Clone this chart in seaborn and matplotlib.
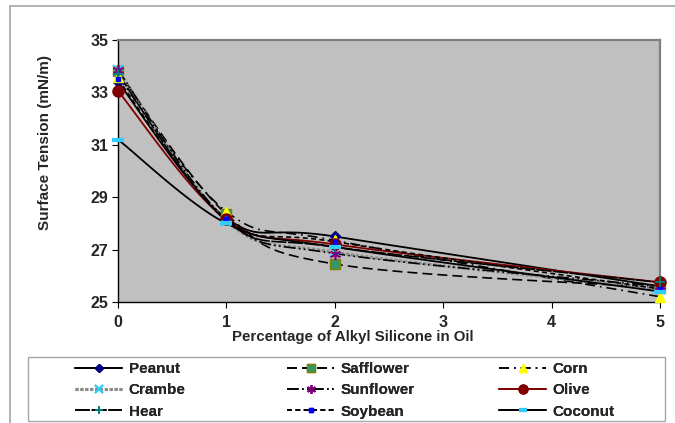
import numpy as np
import pandas as pd
import matplotlib
matplotlib.use("Agg")
import matplotlib.pyplot as plt
from matplotlib.lines import Line2D
from matplotlib.patches import Rectangle
import seaborn as sns

# ---- data -------------------------------------------------------------
x_vals = [0, 1, 2, 5]
oils = ["Peanut", "Safflower", "Corn", "Crambe", "Sunflower",
        "Olive", "Hear", "Soybean", "Coconut"]
peanut = [33.4, 28.2, 27.5, 25.6]
safflower = [33.8, 28.35, 26.45, 25.55]
corn = [33.6, 28.45, 27.35, 25.2]
crambe = [33.85, 28.1, 26.9, 25.5]
sunflower = [33.85, 28.15, 26.85, 25.6]
olive = [33.05, 28.15, 27.2, 25.75]
hear = [33.7, 28.1, 27.1, 25.75]
soybean = [33.5, 28.15, 27.3, 25.5]
coconut = [31.2, 28.0, 27.1, 25.4]
series = [peanut, safflower, corn, crambe, sunflower, olive, hear, soybean, coconut]
x_ticks = [0, 1, 2, 3, 4, 5]
y_ticks = [25, 27, 29, 31, 33, 35]

# ---- styles -----------------------------------------------------------
styles = {
    "Peanut":    dict(color="black", ls="-", lw=1.3, marker="D", ms=5.5, mfc="#000080", mec="#000080", mew=1),
    "Safflower": dict(color="black", ls=(0, (6, 3)), lw=1.2, marker="s", ms=7, mfc="#339966", mec="#808000", mew=1),
    "Corn":      dict(color="black", ls=(0, (6, 3, 1, 3)), lw=1.2, marker="^", ms=7.5, mfc="#FFFF00", mec="#FFFF00", mew=1),
    "Crambe":    dict(color="#8c8c8c", ls=(0, (1, 0.6)), lw=2.2, marker="x", ms=6.5, mfc="#33CCFF", mec="#33CCFF", mew=1.5),
    "Sunflower": dict(color="black", ls=(0, (7, 2, 1, 2, 1, 2)), lw=1.2, marker=(6, 2, 0), ms=8, mfc="#800080", mec="#800080", mew=1.2),
    "Olive":     dict(color="#800000", ls="-", lw=1.3, marker="o", ms=8, mfc="#800000", mec="#800000", mew=1),
    "Hear":      dict(color="black", ls=(0, (9, 1)), lw=1.2, marker="+", ms=7, mfc="#008080", mec="#008080", mew=1.3),
    "Soybean":   dict(color="black", ls=(0, (3, 2)), lw=1.2, marker="s", ms=3.5, mfc="#0000FF", mec="#0000FF", mew=1),
    "Coconut":   dict(color="black", ls="-", lw=1.3, marker="_", ms=8, mfc="#33CCFF", mec="#33CCFF", mew=3),
}


def smooth(xs, ys, n=40):
    """Excel-like smoothed line (Catmull-Rom Bezier) through the points."""
    P = np.column_stack([xs, ys]).astype(float)
    out = []
    t = np.linspace(0, 1, n)
    for i in range(len(P) - 1):
        p0 = P[max(i - 1, 0)]
        p1 = P[i]
        p2 = P[i + 1]
        p3 = P[min(i + 2, len(P) - 1)]
        c1 = p1 + (p2 - p0) / 6.0
        c2 = p2 - (p3 - p1) / 6.0
        seg = ((1 - t) ** 3)[:, None] * p1 + (3 * (1 - t) ** 2 * t)[:, None] * c1 \
            + (3 * (1 - t) * t ** 2)[:, None] * c2 + (t ** 3)[:, None] * p2
        out.append(seg if i == 0 else seg[1:])
    c = np.vstack(out)
    return c[:, 0], c[:, 1]


sns.set_theme(style="white")
plt.rcParams["font.family"] = ["Liberation Sans", "DejaVu Sans"]
plt.rcParams["font.weight"] = "bold"

W, H = 675, 423
fig = plt.figure(figsize=(W / 100, H / 100), dpi=100)
fig.patch.set_facecolor("white")

# outer chart border
fig.add_artist(Line2D([10 / W, 1.0], [1 - 6 / H, 1 - 6 / H], color="#A6A6A6", lw=1.2))
fig.add_artist(Line2D([10 / W, 10 / W], [0, 1 - 6 / H], color="#A6A6A6", lw=1.2))

ax = fig.add_axes([118 / W, 1 - 302 / H, (660 - 118) / W, (302 - 40) / H])
ax.set_facecolor("#C0C0C0")

long_rows = []
for name, vals in zip(oils, series):
    sx, sy = smooth(x_vals, vals)
    d = pd.DataFrame({"x": sx, "y": sy, "oil": name})
    st = styles[name]
    sns.lineplot(data=d, x="x", y="y", ax=ax, color=st["color"], lw=st["lw"],
                 linestyle=st["ls"], legend=False, sort=False, estimator=None)
    long_rows.append(pd.DataFrame({"x": x_vals, "y": vals, "oil": name}))

# markers at data points (drawn on top)
pts = pd.concat(long_rows, ignore_index=True)
for name in oils:
    st = styles[name]
    d = pts[pts.oil == name]
    ax.plot(d.x, d.y, ls="none", marker=st["marker"], ms=st["ms"],
            mfc=st["mfc"], mec=st["mec"], mew=st["mew"], clip_on=False, zorder=5)

ax.set_xlim(0, 5)
ax.set_ylim(25, 35)
ax.set_xticks(x_ticks)
ax.set_yticks(y_ticks)
ax.set_xticklabels([str(v) for v in x_ticks], fontsize=11.5, fontweight="bold")
ax.set_yticklabels([str(v) for v in y_ticks], fontsize=11.5, fontweight="bold")
ax.tick_params(axis="both", direction="out", length=4, width=0.8, color="black",
               bottom=True, left=True)
ax.tick_params(axis="x", pad=5)
ax.tick_params(axis="y", pad=3)
for s in ["left", "bottom"]:
    ax.spines[s].set_color("black")
    ax.spines[s].set_linewidth(1.0)
for s in ["top", "right"]:
    ax.spines[s].set_color("#808080")
    ax.spines[s].set_linewidth(1.6)
ax.grid(False)

ax.set_xlabel("")
ax.set_ylabel("")
fig.text(353 / W, 1 - 337 / H, "Percentage of Alkyl Silicone in Oil",
         ha="center", va="center", fontsize=10.8, fontweight="bold")
fig.text(45 / W, 1 - 142 / H, "Surface Tension (mN/m)", rotation=90,
         ha="center", va="center", fontsize=11, fontweight="bold")

# legend box
fig.add_artist(Rectangle((28 / W, 1 - 421 / H), (665 - 28) / W, (421 - 357) / H,
                         transform=fig.transFigure, facecolor="white",
                         edgecolor="#A6A6A6", lw=1.0))

columns = [["Peanut", "Crambe", "Hear"],
           ["Safflower", "Sunflower", "Soybean"],
           ["Corn", "Olive", "Coconut"]]
col_x = [76, 288, 500]
for cx, names in zip(col_x, columns):
    handles = []
    for name in names:
        st = styles[name]
        handles.append(Line2D([], [], color=st["color"], lw=st["lw"], ls=st["ls"],
                              marker=st["marker"], ms=st["ms"] * 0.8, mfc=st["mfc"],
                              mec=st["mec"], mew=st["mew"]))
    leg = fig.legend(handles, names, loc="upper left",
                     bbox_to_anchor=((cx - 4) / W, 1 - 359 / H),
                     frameon=False, handlelength=3.1, handletextpad=0.4,
                     labelspacing=0.48, borderpad=0.2, borderaxespad=0,
                     numpoints=1, prop=dict(size=11, weight="bold"))
    fig.add_artist(leg)

fig.savefig("out.png", dpi=100)
